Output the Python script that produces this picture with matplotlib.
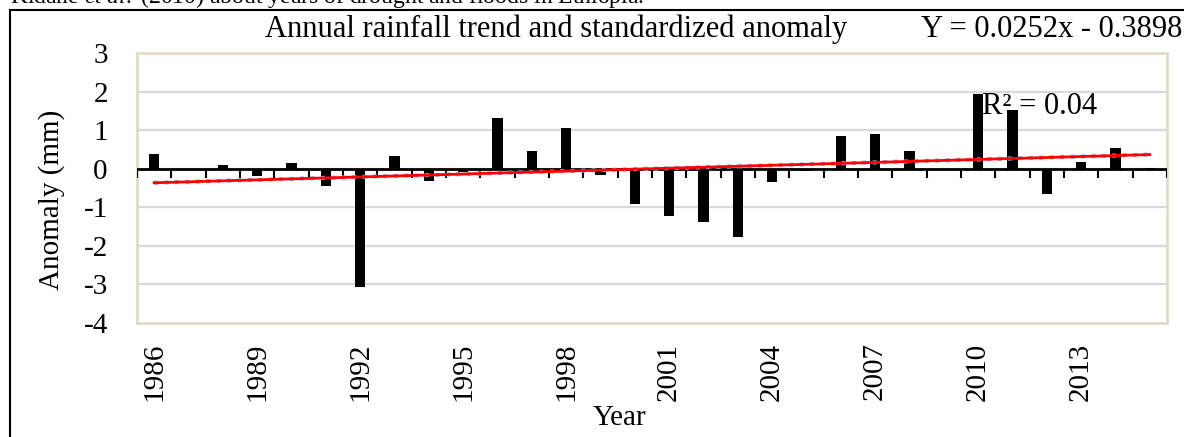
import numpy as np
import matplotlib
matplotlib.use("Agg")
import matplotlib.pyplot as plt
from matplotlib.lines import Line2D

plt.rcParams['font.family'] = ['Liberation Serif', 'DejaVu Serif']
plt.rcParams['axes.unicode_minus'] = False
plt.rcParams['mathtext.fontset'] = 'custom'
plt.rcParams['mathtext.rm'] = 'Liberation Serif'
plt.rcParams['mathtext.it'] = 'Liberation Serif:italic'

# ---- data ----
years = list(range(1986, 2016))
anomaly = [0.39, 0.0, 0.09, -0.19, 0.16, -0.44, -3.06, 0.32, -0.32, -0.08,
           1.32, 0.47, 1.05, -0.15, -0.92, -1.23, -1.38, -1.77, -0.34, -0.06,
           0.86, 0.89, 0.47, 0.0, 1.93, 1.52, -0.65, 0.18, 0.53, 0.03]
tick_years = [1986, 1989, 1992, 1995, 1998, 2001, 2004, 2007, 2010, 2013]
trend_slope = 0.0252
trend_intercept = -0.3898
y_ticks = [-4, -3, -2, -1, 0, 1, 2, 3]

title = "Annual rainfall trend and standardized anomaly"
eq_text = "Y = 0.0252x - 0.3898"
r2_text = "R² = 0.04"
caption = "Kidane $\\it{et\\ al.}$ (2010) about years of drought and floods in Ethiopia."

# ---- figure ----
W, H = 1184, 437
fig = plt.figure(figsize=(W / 100, H / 100), dpi=100)
ax_l, ax_r, ax_t, ax_b = 137, 1167, 53, 323
ax = fig.add_axes([ax_l / W, 1 - ax_b / H, (ax_r - ax_l) / W, (ax_b - ax_t) / H])

n = len(years)
x = np.arange(n)
FS = 21
FS_T = 22

ax.set_xlim(-0.5, n - 0.5)
ax.set_ylim(min(y_ticks), max(y_ticks))

# gridlines
for yv in y_ticks[1:-1]:
    ax.axhline(yv, color='#D9D9D9', lw=1.6, zorder=0)

# bars
ax.bar(x, anomaly, width=0.31, color='black', zorder=3)

# zero axis with tick marks at category boundaries
ax.axhline(0, color='black', lw=2.0, zorder=4)
bounds = np.arange(n + 1) - 0.5
ax.vlines(bounds, -0.23, 0, color='black', lw=1.5, zorder=4)

# trend line (Excel linear trend, x = 1..n)
xt = np.arange(1, n + 1)
yt = trend_slope * xt + trend_intercept
ax.plot(x, yt, color='#8FA8E0', lw=3.0, ls=(0, (1, 1.5)), zorder=5)
ax.plot(x, yt, color='#FF0000', lw=2.0, zorder=6)

# spines
for s in ax.spines.values():
    s.set_color('#DDD9C3')
    s.set_linewidth(1.8)

# y ticks
ax.set_yticks(y_ticks)
ax.set_yticklabels([str(v) for v in y_ticks], fontsize=FS)
ax.tick_params(axis='y', length=0, pad=21)

# x tick labels at every third year
ax.set_xticks([years.index(v) for v in tick_years])
ax.set_xticklabels([str(v) for v in tick_years], rotation=90, fontsize=FS)
ax.tick_params(axis='x', length=0, pad=14)

# texts
fig.text(847 / W, 1 - 37 / H, title, fontsize=FS_T, ha='right', va='baseline')
fig.text(1182 / W, 1 - 37 / H, eq_text, fontsize=FS_T, ha='right', va='baseline')
fig.text(982 / W, 1 - 107 / H, r2_text, fontsize=FS_T, ha='left', va='center')
fig.text(52 / W, 1 - 200 / H, "Anomaly (mm)", fontsize=FS, rotation=90,
         ha='center', va='center')
fig.text(620 / W, 1 - 418 / H, "Year", fontsize=FS, ha='center', va='center')

# top caption text (cut off at the top in the reference)
fig.text(10 / W, 1 - 3 / H, caption, fontsize=17, ha='left', va='baseline')

# outer border
fig.add_artist(Line2D([10 / W, 1.0], [1 - 10 / H, 1 - 10 / H], color='black', lw=1.5,
                      transform=fig.transFigure))
fig.add_artist(Line2D([10 / W, 10 / W], [1 - 10 / H, 0.0], color='black', lw=1.5,
                      transform=fig.transFigure))

fig.savefig("out.png", dpi=100)
